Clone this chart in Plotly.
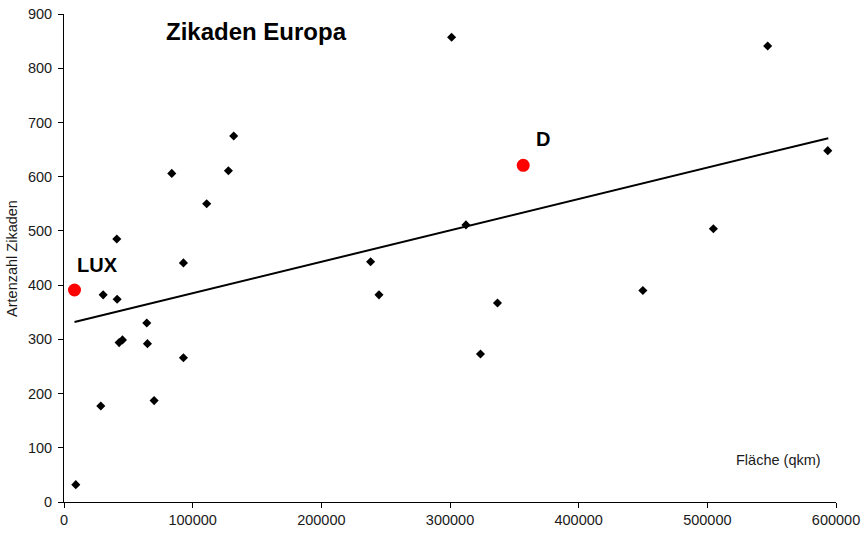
import plotly.graph_objects as go

# Black data points (area in qkm, number of leafhopper species)
area = [9165, 30440, 28600, 41300, 41040, 42850, 45440, 64330, 64850, 70040,
        92820, 92820, 110900, 83760, 127770, 131900, 301240, 238300, 244800,
        312400, 336900, 323700, 546900, 593600, 504700, 449900]
species = [32, 382, 177, 374, 485, 294, 299, 330, 292, 187,
           441, 266, 550, 606, 611, 675, 857, 443, 382,
           511, 367, 273, 841, 648, 504, 390]

# Highlighted countries
hl_names = ["LUX", "D"]
hl_area = [8155, 356900]
hl_species = [391, 621]

# Trend line endpoints
trend_x = [8155, 594000]
trend_y = [332, 671]

x_ticks = [0, 100000, 200000, 300000, 400000, 500000, 600000]
y_ticks = [0, 100, 200, 300, 400, 500, 600, 700, 800, 900]

FONT = "Liberation Sans, Arial, sans-serif"
TXT = "#1a1a1a"

fig = go.Figure()
fig.add_trace(go.Scatter(x=trend_x, y=trend_y, mode="lines",
                         line=dict(color="black", width=2), showlegend=False,
                         hoverinfo="skip"))
fig.add_trace(go.Scatter(x=area, y=species, mode="markers",
                         marker=dict(symbol="diamond", size=7, color="black"),
                         showlegend=False))
fig.add_trace(go.Scatter(x=hl_area, y=hl_species, mode="markers",
                         marker=dict(symbol="circle", size=13, color="#ff0000"),
                         showlegend=False))

label_shift = {"LUX": (23, 25), "D": (20, 26)}
for name, xv, yv in zip(hl_names, hl_area, hl_species):
    dx, dy = label_shift[name]
    fig.add_annotation(x=xv, y=yv, text=f"<b>{name}</b>", showarrow=False,
                       xanchor="center", yanchor="middle",
                       xshift=dx, yshift=dy,
                       font=dict(family=FONT, size=20, color="black"))

fig.add_annotation(xref="paper", yref="paper", x=0.2494, y=0.965, text="<b>Zikaden Europa</b>",
                   showarrow=False, xanchor="center", yanchor="middle",
                   font=dict(family=FONT, size=24, color="black"))
fig.add_annotation(xref="paper", yref="paper", x=0.926, y=0.086, text="Fläche (qkm)",
                   showarrow=False, xanchor="center", yanchor="middle",
                   font=dict(family=FONT, size=14.5, color=TXT))
fig.add_annotation(xref="paper", yref="paper", x=-0.0674, y=0.5, text="Artenzahl Zikaden",
                   showarrow=False, xanchor="center", yanchor="middle", textangle=-90,
                   font=dict(family=FONT, size=14.5, color=TXT))

fig.update_layout(
    width=863, height=533,
    margin=dict(l=64, r=27, t=14, b=31),
    paper_bgcolor="white", plot_bgcolor="white",
    font=dict(family=FONT, size=14.5, color=TXT),
    xaxis=dict(range=[0, 600000], tickvals=x_ticks, tickformat="d", automargin=False,
               showgrid=False, zeroline=False, showline=True, linecolor="black",
               linewidth=1, ticks="outside", ticklen=5, tickcolor="black",
               tickfont=dict(family=FONT, size=14.5, color=TXT)),
    yaxis=dict(range=[0, 900], tickvals=y_ticks, showgrid=False, zeroline=False,
               automargin=False,
               showline=True, linecolor="black", linewidth=1, ticks="outside",
               ticklen=5, tickcolor="black", ticklabelstandoff=3,
               tickfont=dict(family=FONT, size=14.5, color=TXT)),
)

# remove the default page margin so the 863x533 figure fills the window exactly
fig.write_html("out.html", config={"displayModeBar": False},
               post_script="document.body.style.margin='0';document.body.style.overflow='hidden';")
